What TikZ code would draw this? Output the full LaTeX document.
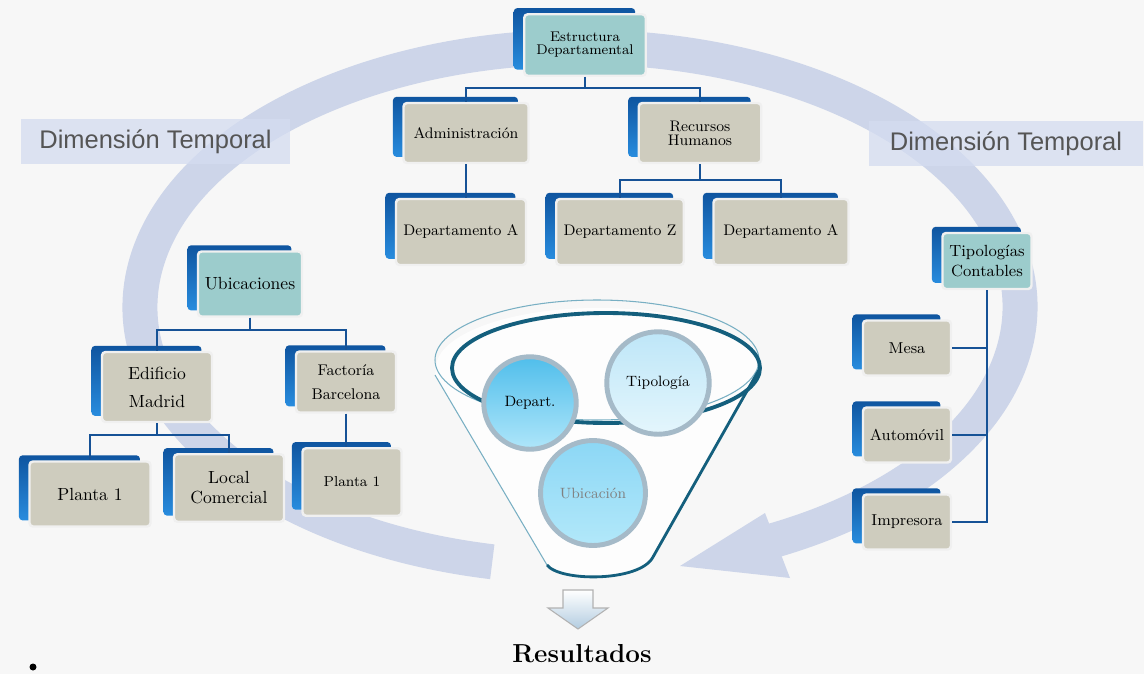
\documentclass[tikz,border=0pt]{standalone}
\usepackage{fontspec}
\newfontfamily\dimfont{Liberation Sans}
\usetikzlibrary{shadows}

\definecolor{fondo}{RGB}{247,247,247}
\definecolor{anillo}{RGB}{205,213,233}
\definecolor{dimc}{RGB}{212,220,240}
\definecolor{dimtexto}{RGB}{85,85,85}
\definecolor{azulalto}{RGB}{15,85,160}
\definecolor{azulbajo}{RGB}{40,140,222}
\definecolor{cajac}{RGB}{206,204,190}
\definecolor{cabecera}{RGB}{156,204,204}
\definecolor{lineac}{RGB}{22,82,150}
\definecolor{embudoosc}{RGB}{20,95,125}
\definecolor{embudoclaro}{RGB}{120,175,195}
\definecolor{bordecirc}{RGB}{165,186,200}
\definecolor{flechac}{RGB}{178,204,224}
\definecolor{depalto}{RGB}{80,190,235}
\definecolor{depbajo}{RGB}{175,230,250}
\definecolor{tipalto}{RGB}{190,230,248}
\definecolor{tipbajo}{RGB}{228,246,252}
\definecolor{ubialto}{RGB}{140,215,245}
\definecolor{ubibajo}{RGB}{178,232,250}

\begin{document}
\begin{tikzpicture}[x=0.02cm, y=-0.02cm,
    orgbox/.style={rectangle, rounded corners=2pt, draw=white!88!gray, line width=1.4pt,
        fill=cajac, text=black, align=center, inner sep=2pt,
        font=\fontsize{8.7}{8}\selectfont,
        general shadow={top color=azulalto, bottom color=azulbajo,
            shadow xshift=-6pt, shadow yshift=3.5pt}},
    headbox/.style={orgbox, fill=cabecera},
    conn/.style={draw=lineac, line width=1.3pt},
    bubble/.style={circle, draw=bordecirc, line width=2.8pt, align=center, inner sep=1pt,
        text=black, font=\fontsize{8.5}{10}\selectfont},
    dimbox/.style={rectangle, fill=dimc, fill opacity=0.75, text opacity=1, inner sep=0pt,
        text=dimtexto, font=\dimfont\fontsize{14.5}{16}\selectfont}]

   \useasboundingbox (0,0) rectangle (1144,674);
   \fill[fondo] (0,0) rectangle (1144,674);

   % anillo de la dimension temporal
   \draw[anillo, line width=0.7cm] (580,307) ++(101.5:440 and 260)
        arc[start angle=101.5, end angle=424, x radius=440, y radius=260];
   \fill[anillo] (765,513) -- (680,566) -- (790,578) -- cycle;

   \node[dimbox, minimum width=5.38cm, minimum height=0.9cm] (dimizq) at (155.5,141.5) {Dimensión Temporal};
   \node[dimbox, minimum width=5.48cm, minimum height=0.9cm] (dimder) at (1006,143.5) {Dimensión Temporal};

   % embudo
   \fill[white, fill opacity=0.8] (435,375) -- (547,565) .. controls (560,582) and (640,582) .. (653,557)
        -- (760,368) arc[start angle=360, end angle=180, x radius=162, y radius=60] -- cycle;
   \draw[embudoclaro, line width=0.6pt] (435,375) -- (547,565);
   \draw[embudoclaro, line width=0.6pt] (597,360) ellipse[x radius=162, y radius=60];
   \draw[embudoosc, line width=1.6pt] (547,565) .. controls (560,582) and (640,582) .. (653,557) -- (760,368);
   \draw[embudoosc, line width=2.2pt] (606,368) ellipse[x radius=154, y radius=55];

   \node[bubble, minimum size=1.85cm, top color=depalto, bottom color=depbajo] (cdep) at (530,403) {Depart.};
   \node[bubble, minimum size=2.05cm, top color=tipalto, bottom color=tipbajo] (ctip) at (658,383) {Tipología};
   \node[bubble, minimum size=2.1cm, top color=ubialto, bottom color=ubibajo, text=black!50] (cubi) at (593,493) {Ubicación};

   \shadedraw[top color=white, bottom color=flechac, draw=gray!60, line width=0.6pt]
        (563,590) -- (593,590) -- (593,608) -- (608,608) -- (578,629) -- (548,608) -- (563,608) -- cycle;
   \node[font=\fontsize{14.8}{16}\selectfont\bfseries] (res) at (582,654) {Resultados};

   % estructura departamental
   \node[headbox, minimum width=2.43cm, minimum height=1.23cm, font=\fontsize{8}{7.4}\selectfont] (est) at (585,45) {Estructura\\Departamental};
   \node[orgbox, minimum width=2.5cm, minimum height=1.2cm] (adm) at (466,133) {Administración};
   \node[orgbox, minimum width=2.45cm, minimum height=1.2cm] (rrhh) at (700,133) {Recursos\\Humanos};
   \node[orgbox, minimum width=2.6cm, minimum height=1.32cm] (depa) at (461,232) {Departamento A};
   \node[orgbox, minimum width=2.55cm, minimum height=1.32cm] (depz) at (620,232) {Departamento Z};
   \node[orgbox, minimum width=2.7cm, minimum height=1.32cm] (depb) at (781,232) {Departamento A};

   % ubicaciones
   \node[headbox, minimum width=2.08cm, minimum height=1.3cm, font=\fontsize{10}{12}\selectfont] (ubi) at (250,284) {Ubicaciones};
   \node[orgbox, minimum width=2.2cm, minimum height=1.4cm, font=\fontsize{10}{16}\selectfont] (edif) at (157,387) {Edificio\\Madrid};
   \node[orgbox, minimum width=2.0cm, minimum height=1.22cm, font=\fontsize{8.8}{14}\selectfont] (fact) at (346,382) {Factoría\\Barcelona};
   \node[orgbox, minimum width=2.42cm, minimum height=1.3cm, font=\fontsize{10}{12}\selectfont] (plan1) at (90,494) {Planta 1};
   \node[orgbox, minimum width=2.2cm, minimum height=1.35cm, font=\fontsize{10}{11.3}\selectfont] (local) at (229,488) {Local\\Comercial};
   \node[orgbox, minimum width=1.98cm, minimum height=1.35cm, font=\fontsize{8.2}{10}\selectfont] (plan2) at (352,482) {Planta 1};

   % tipologias contables
   \node[headbox, minimum width=1.78cm, minimum height=1.12cm, font=\fontsize{9.2}{11.3}\selectfont] (tipc) at (987,261) {Tipologías\\Contables};
   \node[orgbox, minimum width=1.76cm, minimum height=1.1cm, font=\fontsize{9}{11}\selectfont] (mesa) at (907,348) {Mesa};
   \node[orgbox, minimum width=1.76cm, minimum height=1.1cm, font=\fontsize{9}{11}\selectfont] (auto) at (907,435) {Automóvil};
   \node[orgbox, minimum width=1.76cm, minimum height=1.1cm, font=\fontsize{9}{11}\selectfont] (impr) at (907,522) {Impresora};

   \draw[conn] (est.south) -- ++(0,11) -| (adm.north);
   \draw[conn] (est.south) -- ++(0,11) -| (rrhh.north);
   \draw[conn] (adm.south) -- (adm.south |- depa.north);
   \draw[conn] (rrhh.south) -- ++(0,16) -| (depz.north);
   \draw[conn] (rrhh.south) -- ++(0,16) -| (depb.north);

   \draw[conn] (ubi.south) -- ++(0,12) -| (edif.north);
   \draw[conn] (ubi.south) -- ++(0,12) -| (fact.north);
   \draw[conn] (edif.south) -- ++(0,12) -| (plan1.north);
   \draw[conn] (edif.south) -- ++(0,12) -| (local.north);
   \draw[conn] (fact.south) -- (fact.south |- plan2.north);

   \draw[conn] (tipc.south) -- (tipc.south |- impr.east) -- (impr.east);
   \draw[conn] (mesa.east) -- (mesa.east -| tipc.south);
   \draw[conn] (auto.east) -- (auto.east -| tipc.south);

   \fill (33,667) circle (3.5);
 \end{tikzpicture}
\end{document}
